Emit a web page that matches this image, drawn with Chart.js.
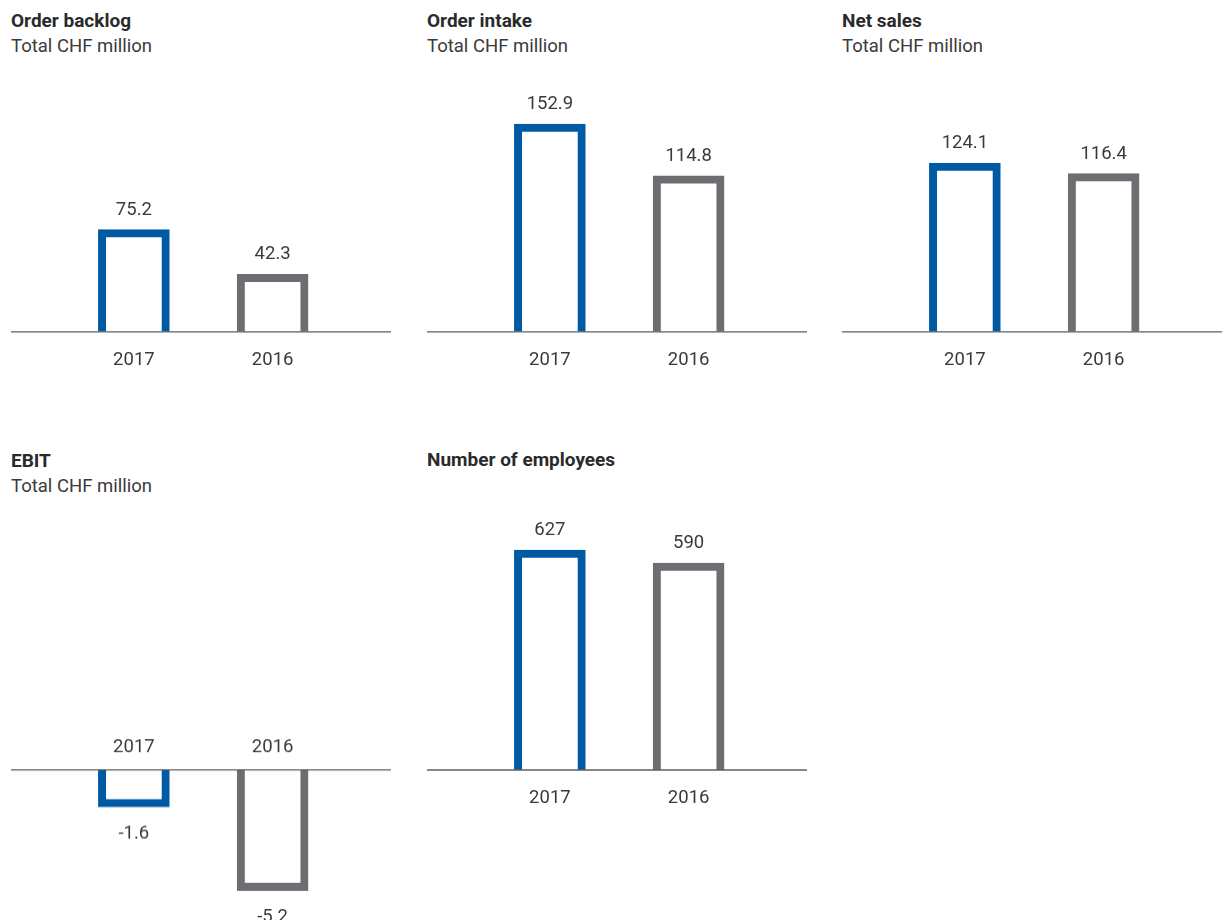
<!DOCTYPE html>
<html>
<head>
<meta charset="utf-8">
<script src="https://cdn.jsdelivr.net/npm/chart.js@4"></script>
<style>
  html, body { margin: 0; padding: 0; background: #fff; }
  body { width: 1222px; height: 920px; position: relative; overflow: hidden;
         font-family: Roboto, 'Liberation Sans', sans-serif; }
  .t { position: absolute; white-space: nowrap; line-height: 21px; }
  .t.b { font-weight: bold; font-size: 19px; color: #2a2a2a; }
  .t.s { font-size: 18.5px; color: #3a3a3a; }
  .panel { position: absolute; }
</style>
</head>
<body>
<div class="t b" style="left:11px;top:10.3px">Order backlog</div>
<div class="t s" style="left:11px;top:36px">Total CHF million</div>
<div class="t b" style="left:427px;top:10.3px">Order intake</div>
<div class="t s" style="left:427px;top:36px">Total CHF million</div>
<div class="t b" style="left:842px;top:10.3px">Net sales</div>
<div class="t s" style="left:842px;top:36px">Total CHF million</div>
<div class="t b" style="left:11px;top:449.7px">EBIT</div>
<div class="t s" style="left:11px;top:475.5px">Total CHF million</div>
<div class="t b" style="left:427px;top:449px">Number of employees</div>

<div class="panel" style="left:11px;top:60px;width:380px;height:329px"><canvas id="backlog"></canvas></div>
<div class="panel" style="left:427px;top:60px;width:380px;height:329px"><canvas id="intake"></canvas></div>
<div class="panel" style="left:842px;top:60px;width:380px;height:329px"><canvas id="sales"></canvas></div>
<div class="panel" style="left:11px;top:725.4px;width:380px;height:194.6px"><canvas id="ebit"></canvas></div>
<div class="panel" style="left:427px;top:500px;width:380px;height:327.2px"><canvas id="staff"></canvas></div>

<script>
// Years shown on every panel
const years = ['2017', '2016'];

// Key figures, CHF million unless noted
const orderBacklog = [75.2, 42.3];
const orderIntake = [152.9, 114.8];
const netSales = [124.1, 116.4];
const ebit = [-1.6, -5.2];
// Headcount
const employees = [627, 590];

const barColors = ['#0059a3', '#6d6e72'];
const FONT = "Roboto, 'Liberation Sans', sans-serif";
const SIZE = 18.5;

Chart.defaults.font.family = FONT;
Chart.defaults.font.size = SIZE;
Chart.defaults.color = '#3a3a3a';

// Horizontal zero line across the whole panel
const zeroLine = {
  id: 'zeroLine',
  afterDatasetsDraw(chart) {
    const y = chart.scales.y.getPixelForValue(0);
    const ctx = chart.ctx;
    ctx.save();
    ctx.strokeStyle = '#5e5e5e';
    ctx.lineWidth = 1.3;
    ctx.beginPath();
    ctx.moveTo(0, y);
    ctx.lineTo(chart.width, y);
    ctx.stroke();
    ctx.restore();
  }
};

// Value written above (or below, for negatives) each bar
const valueLabels = {
  id: 'valueLabels',
  afterDatasetsDraw(chart, args, opts) {
    const ctx = chart.ctx;
    const meta = chart.getDatasetMeta(0);
    const data = chart.data.datasets[0].data;
    ctx.save();
    ctx.font = SIZE + 'px ' + FONT;
    ctx.fillStyle = '#3a3a3a';
    ctx.textAlign = 'center';
    ctx.textBaseline = 'alphabetic';
    meta.data.forEach((bar, i) => {
      const v = data[i];
      const txt = v.toFixed(opts.decimals);
      const y = v >= 0 ? bar.y - 15 : bar.y + 31;
      ctx.fillText(txt, bar.x, y);
    });
    ctx.restore();
  }
};

function makeBars(id, values, yMin, yMax, decimals, axisTop) {
  new Chart(document.getElementById(id), {
    type: 'bar',
    data: {
      labels: years,
      datasets: [{
        data: values,
        backgroundColor: '#ffffff',
        borderColor: barColors,
        borderWidth: 8,
        borderSkipped: 'start',
        barThickness: 71
      }]
    },
    options: {
      responsive: true,
      maintainAspectRatio: false,
      animation: false,
      events: [],
      layout: { padding: { left: 53.5, right: 49, top: 0, bottom: 0 } },
      plugins: {
        legend: { display: false },
        tooltip: { enabled: false },
        valueLabels: { decimals: decimals }
      },
      scales: {
        x: {
          position: axisTop ? 'top' : 'bottom',
          offset: true,
          grid: { display: false, drawTicks: false },
          border: { display: false },
          ticks: { padding: axisTop ? 11.2 : 17.5, color: '#3a3a3a', font: { size: SIZE } }
        },
        y: {
          display: false,
          min: yMin,
          max: yMax
        }
      }
    },
    plugins: [zeroLine, valueLabels]
  });
}

makeBars('backlog', orderBacklog, 0, 200, 1, false);
makeBars('intake', orderIntake, 0, 200, 1, false);
makeBars('sales', netSales, 0, 200, 1, false);
makeBars('ebit', ebit, -6.5, 0, 1, true);
makeBars('staff', employees, 0, 770, 0, false);
</script>
</body>
</html>
